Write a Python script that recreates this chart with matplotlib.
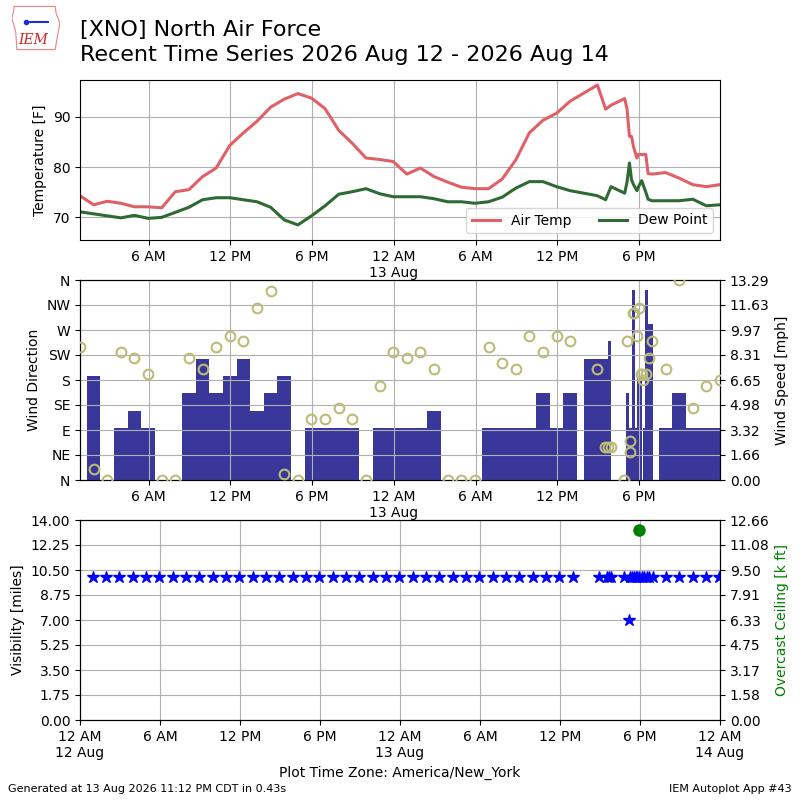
"""Recent time series (temp / wind / visibility) for XNO, IEM autoplot style."""

import numpy as np
import matplotlib
matplotlib.use("Agg")
import matplotlib.pyplot as plt
from matplotlib.ticker import FixedLocator

# all times are hours since 12 AM 12 Aug (America/New_York)
temp_hours = [0.95, 1.95, 2.95, 3.95, 4.95, 5.95, 6.95, 7.95, 8.95, 9.95,
              10.95, 11.95, 12.95, 13.95, 14.95, 15.95, 16.95, 17.95, 18.95, 19.95,
              20.95, 21.95, 22.95, 23.95, 24.95, 25.95, 26.95, 27.95, 28.95, 29.95,
              30.95, 31.95, 32.95, 33.95, 34.95, 35.95, 36.95, 38.95, 39.55, 39.95,
              40.95, 41.12, 41.3, 41.45, 41.6, 41.85, 41.95, 42.2, 42.5, 42.67,
              42.95, 43.95, 44.95, 45.95, 46.95, 47.95]
air_temp = [74.3, 72.5, 73.2, 72.8, 72.1, 72.1, 71.9, 75.1, 75.5, 78.1,
            79.8, 84.3, 86.8, 89.1, 91.9, 93.5, 94.6, 93.7, 91.6, 87.3,
            84.7, 81.8, 81.5, 81.1, 78.6, 79.8, 78.1, 77.0, 76.0, 75.7,
            75.7, 77.6, 81.4, 86.8, 89.3, 90.7, 93.1, 96.3, 91.5, 92.3,
            93.6, 91.6, 86.1, 86.1, 84.0, 81.8, 82.5, 82.5, 82.5, 78.7,
            78.6, 78.9, 77.8, 76.5, 76.1, 76.5]
dew_point = [71.1, 70.7, 70.3, 69.9, 70.4, 69.8, 70.0, 71.0, 72.0, 73.5,
             73.9, 73.9, 73.5, 73.1, 72.0, 69.5, 68.5, 70.3, 72.3, 74.6,
             75.1, 75.7, 74.7, 74.1, 74.1, 74.1, 73.7, 73.1, 73.1, 72.8,
             73.1, 74.0, 75.8, 77.1, 77.1, 76.1, 75.3, 74.3, 73.5, 76.1,
             74.8, 77.0, 80.8, 77.5, 76.5, 75.3, 76.0, 77.3, 75.0, 73.6,
             73.3, 73.3, 73.3, 73.6, 72.3, 72.5]

# wind direction observations
dir_hours = [0.95, 1.95, 2.95, 3.95, 4.95, 5.95, 6.95, 7.95, 8.95, 9.95,
             10.95, 11.95, 12.95, 13.95, 14.95, 15.95, 16.95, 17.95, 18.95, 19.95,
             20.95, 21.95, 22.95, 23.95, 24.95, 25.95, 26.95, 27.95, 28.95, 29.95,
             30.95, 31.95, 32.95, 33.95, 34.95, 35.95, 36.95, 38.95, 39.5, 39.72,
             39.95, 40.93, 41.15, 41.33, 41.36, 41.55, 41.6, 41.88, 42.03, 42.13,
             42.25, 42.33, 42.55, 42.76, 42.95, 43.95, 44.95, 45.95, 46.95, 47.95]
wind_dir = [240, 20, 0, 230, 220, 190, 0, 0, 220, 200,
            240, 260, 250, 310, 340, 10, 0, 110, 110, 130,
            110, 0, 170, 230, 220, 230, 200, 0, 0, 0,
            240, 210, 200, 260, 230, 260, 250, 200, 60, 60,
            60, 0, 250, 70, 50, 300, 300, 260, 310, 190,
            190, 180, 190, 220, 250, 200, 360, 130, 170, 180]

# wind speed, each value holds from its start time until the next one
speed_start = [0.95, 1.45, 2.45, 3.45, 4.45, 5.45, 6.45, 8.45, 9.45, 10.45,
               11.45, 12.45, 13.45, 14.45, 15.45, 16.45, 17.45, 21.45, 22.45, 26.45,
               27.45, 30.45, 34.45, 35.45, 36.45, 37.45, 37.97, 39.72, 39.95, 41.05,
               41.25, 41.49, 41.68, 41.82, 42.19, 42.32, 42.42, 42.68, 43.02, 43.45,
               44.45, 45.45]
speed_kt = [0, 6, 0, 3, 4, 3, 0, 5, 7, 5,
            6, 7, 4, 5, 6, 0, 3, 0, 3, 4,
            0, 3, 5, 3, 5, 0, 7, 8, 0, 5,
            3, 11, 3, 6, 0, 3, 11, 9, 0, 3,
            5, 3]
speed_end = 47.95

# visibility
vis_hours = [0.95, 1.95, 2.95, 3.95, 4.95, 5.95, 6.95, 7.95, 8.95, 9.95,
             10.95, 11.95, 12.95, 13.95, 14.95, 15.95, 16.95, 17.95, 18.95, 19.95,
             20.95, 21.95, 22.95, 23.95, 24.95, 25.95, 26.95, 27.95, 28.95, 29.95,
             30.95, 31.95, 32.95, 33.95, 34.95, 35.95, 36.95, 38.95, 39.55, 39.7,
             39.85, 40.8, 41.15, 41.25, 41.42, 41.55, 41.7, 41.8, 41.95, 42.13,
             42.3, 42.5, 42.7, 42.95, 43.95, 44.95, 45.95, 46.95, 47.95]
visibility = [10] * 42 + [7] + [10] * 16
ceil_hours = [41.95]
ceiling_kft = [12.0]

TOP_TICKS = [6, 12, 18, 24, 30, 36, 42]
TOP_LABELS = ["6 AM", "12 PM", "6 PM", "12 AM\n13 Aug", "6 AM", "12 PM", "6 PM"]
BOT_TICKS = [0, 6, 12, 18, 24, 30, 36, 42, 48]
BOT_LABELS = ["12 AM\n12 Aug", "6 AM", "12 PM", "6 PM", "12 AM\n13 Aug",
              "6 AM", "12 PM", "6 PM", "12 AM\n14 Aug"]
COMPASS = ["N", "NE", "E", "SE", "S", "SW", "W", "NW", "N"]

fig = plt.figure(figsize=(8, 8), dpi=100)

fig.text(0.1, 0.975, "[XNO] North Air Force\nRecent Time Series 2026 Aug 12 - 2026 Aug 14",
         fontsize=16, va="top", ha="left", linespacing=1.3)

# rough logo: state outline with the IEM letters
logo = fig.add_axes([0.015, 0.935, 0.06, 0.06])
logo.plot([0.05, 0.9, 0.92, 1.0, 0.95, 0.9, 0.1, 0.08, 0.0, 0.05],
          [0.95, 0.95, 0.8, 0.6, 0.35, 0.05, 0.05, 0.4, 0.7, 0.95],
          color="#f08080", lw=0.8)
logo.plot([0.3, 0.75], [0.62, 0.62], color="#2030d0", lw=1.5)
logo.plot([0.3], [0.62], "o", color="#2030d0", ms=3)
logo.text(0.45, 0.25, "IEM", color="#d42020", fontsize=10, style="italic",
          family="serif", ha="center", va="center")
logo.set_xlim(0, 1)
logo.set_ylim(0, 1)
logo.axis("off")

fig.text(0.01, 0.01, "Generated at 13 Aug 2026 11:12 PM CDT in 0.43s", fontsize=8)
fig.text(0.99, 0.01, "IEM Autoplot App #43", fontsize=8, ha="right")

xmin, xmax = temp_hours[0], temp_hours[-1]

# --- temperature
ax1 = fig.add_axes([0.1, 0.7, 0.8, 0.2])
ax1.plot(temp_hours, air_temp, color="#e06068", lw=2.2, label="Air Temp")
ax1.plot(temp_hours, dew_point, color="#2f6a32", lw=2.2, label="Dew Point")
ax1.set_ylim(65.5, 97.3)
ax1.set_yticks([70, 80, 90])
ax1.set_xlim(xmin, xmax)
ax1.xaxis.set_major_locator(FixedLocator(TOP_TICKS))
ax1.set_xticklabels(TOP_LABELS)
ax1.set_ylabel("Temperature [F]")
ax1.grid(True)
ax1.legend(loc="lower right", ncol=2)

# --- wind
ax2 = fig.add_axes([0.1, 0.4, 0.8, 0.25])
ax2b = ax2.twinx()
ax2b.set_zorder(ax2.get_zorder() - 1)
ax2.patch.set_visible(False)
ax2b.patch.set_facecolor("white")

speed_mph = np.array(speed_kt) * 1.15078
edges = np.array(speed_start + [speed_end])
ax2b.bar(edges[:-1], speed_mph, width=np.diff(edges), align="edge",
         color="#39389a", ec="none")
top = speed_mph.max() * 1.05
ax2b.set_ylim(0, top)
ax2b.set_yticks(np.linspace(0, top, 9))
ax2b.set_yticklabels(["%.2f" % v for v in np.linspace(0, top, 9)])
ax2b.set_ylabel("Wind Speed [mph]")

ax2.plot(dir_hours, wind_dir, ls="none", marker="o", ms=7, mfc="none",
         mec="#bcbc78", mew=1.5, zorder=5)
ax2.set_ylim(0, 360)
ax2.set_yticks(range(0, 361, 45))
ax2.set_yticklabels(COMPASS)
ax2.set_ylabel("Wind Direction")
ax2.set_xlim(xmin, xmax)
ax2.xaxis.set_major_locator(FixedLocator(TOP_TICKS))
ax2.set_xticklabels(TOP_LABELS)
ax2.grid(True)

# --- visibility / ceiling
ax3 = fig.add_axes([0.1, 0.1, 0.8, 0.25])
ax3b = ax3.twinx()
ax3.plot(vis_hours, visibility, ls="none", marker="*", ms=9, color="b", zorder=5)
ax3.set_ylim(0, 14)
ax3.set_yticks(np.linspace(0, 14, 9))
ax3.set_yticklabels(["%.2f" % v for v in np.linspace(0, 14, 9)])
ax3.set_ylabel("Visibility [miles]")
ax3.set_xlim(0, 48)
ax3.xaxis.set_major_locator(FixedLocator(BOT_TICKS))
ax3.set_xticklabels(BOT_LABELS)
ax3.set_xlabel("Plot Time Zone: America/New_York")
ax3.grid(True)

ax3b.plot(ceil_hours, ceiling_kft, ls="none", marker="o", ms=8, color="g")
ax3b.set_ylim(0, 12.66)
ax3b.set_yticks(np.linspace(0, 12.66, 9))
ax3b.set_yticklabels(["%.2f" % v for v in np.linspace(0, 12.66, 9)])
ax3b.set_ylabel("Overcast Ceiling [k ft]", color="g")
ax3b.set_xlim(0, 48)

fig.savefig("out.png", dpi=100)
